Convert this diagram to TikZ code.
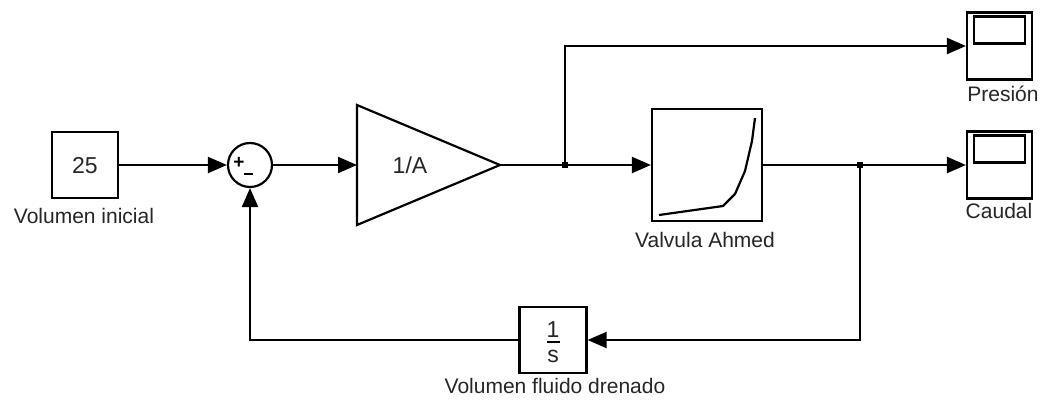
\documentclass[tikz,border=0pt]{standalone}
\usepackage{fontspec}
\setmainfont{Liberation Sans}
\usetikzlibrary{arrows.meta,calc}
\begin{document}
\begin{tikzpicture}[x=1pt,y=-1pt,
  wire/.style={line width=2.2pt,black},
  sig/.style={wire,-{Triangle[length=19pt,width=16pt]}},
  blockbox/.style={draw,line width=2.2pt,inner sep=0pt,fill=white},
  lbl/.style={anchor=base,text=black!85,font=\fontsize{21}{25}\selectfont,inner sep=0pt},
  btxt/.style={anchor=base,text=black!85,font=\fontsize{23}{27}\selectfont,inner sep=0pt},
  dot/.style={fill=black,minimum size=6pt,inner sep=0pt,draw=none,rectangle}
]
\useasboundingbox (0,0) rectangle (1042,400);
\fill[white] (0,0) rectangle (1042,400);

% blocks
\node[blockbox,minimum width=66pt,minimum height=66pt] (c25) at (85,165) {};
\node[btxt] (c25t) at (85,173) {25};
\node[lbl] (c25l) at (84,223) {Volumen inicial};

\node[draw,circle,line width=2.2pt,minimum size=44pt,inner sep=0pt] (sum) at (250,165) {};
\node[inner sep=0pt,font=\fontsize{19}{19}\selectfont\bfseries] (plus) at (239,163) {+};
\draw[line width=2.4pt] (244,174) -- (253,174);

% gain triangle
\coordinate (gin) at (357,165);
\coordinate (gout) at (500,165);
\draw[line width=2.2pt,line join=miter] (357,105) -- (gout) -- (357,225) -- cycle;
\node[btxt] (gaint) at (410,173) {1/A};

% valve
\node[blockbox,minimum width=110pt,minimum height=112pt] (valve) at (707,165) {};
\draw[line width=2.2pt,line join=round] (659,215) -- (723,206) -- (735,194) -- (745,171) -- (752,141) -- (755,118);
\node[lbl] (valvel) at (705,247) {Valvula Ahmed};

% scopes
\node[blockbox,minimum width=65pt,minimum height=67pt] (pres) at (999.5,46) {};
\draw[line width=2.2pt] ($(pres.north west)+(8,5)$) rectangle ($(pres.north east)+(-8,32)$);
\node[lbl] (presl) at (1003,101) {Presión};

\node[blockbox,minimum width=65pt,minimum height=67pt] (caud) at (999.5,165) {};
\draw[line width=2.2pt] ($(caud.north west)+(8,5)$) rectangle ($(caud.north east)+(-8,32)$);
\node[lbl] (caudl) at (999,218) {Caudal};

% integrator
\node[blockbox,minimum width=67pt,minimum height=66pt] (integ) at (553,340) {};
\node[btxt] (i1) at (553,337) {1};
\draw[line width=1.8pt] (547,342) -- (560,342);
\node[btxt] (is) at (553,362) {s};
\node[lbl] (integl) at (555,393) {Volumen fluido drenado};

% junctions
\node[dot] (j1) at (565,165) {};
\node[dot] (j2) at (860,165) {};

% connectors
\draw[sig] (c25.east) -- (sum.west);
\draw[sig] (sum.east) -- (gin);
\draw[wire] (gout) -- (j1.center);
\draw[sig] (j1.center) -- (valve.west);
\draw[sig] (j1.center) |- (pres.west);
\draw[wire] (valve.east) -- (j2.center);
\draw[sig] (j2.center) -- (caud.west);
\draw[sig] (j2.center) |- (integ.east);
\draw[sig] (integ.west) -| (sum.south);
\end{tikzpicture}
\end{document}
